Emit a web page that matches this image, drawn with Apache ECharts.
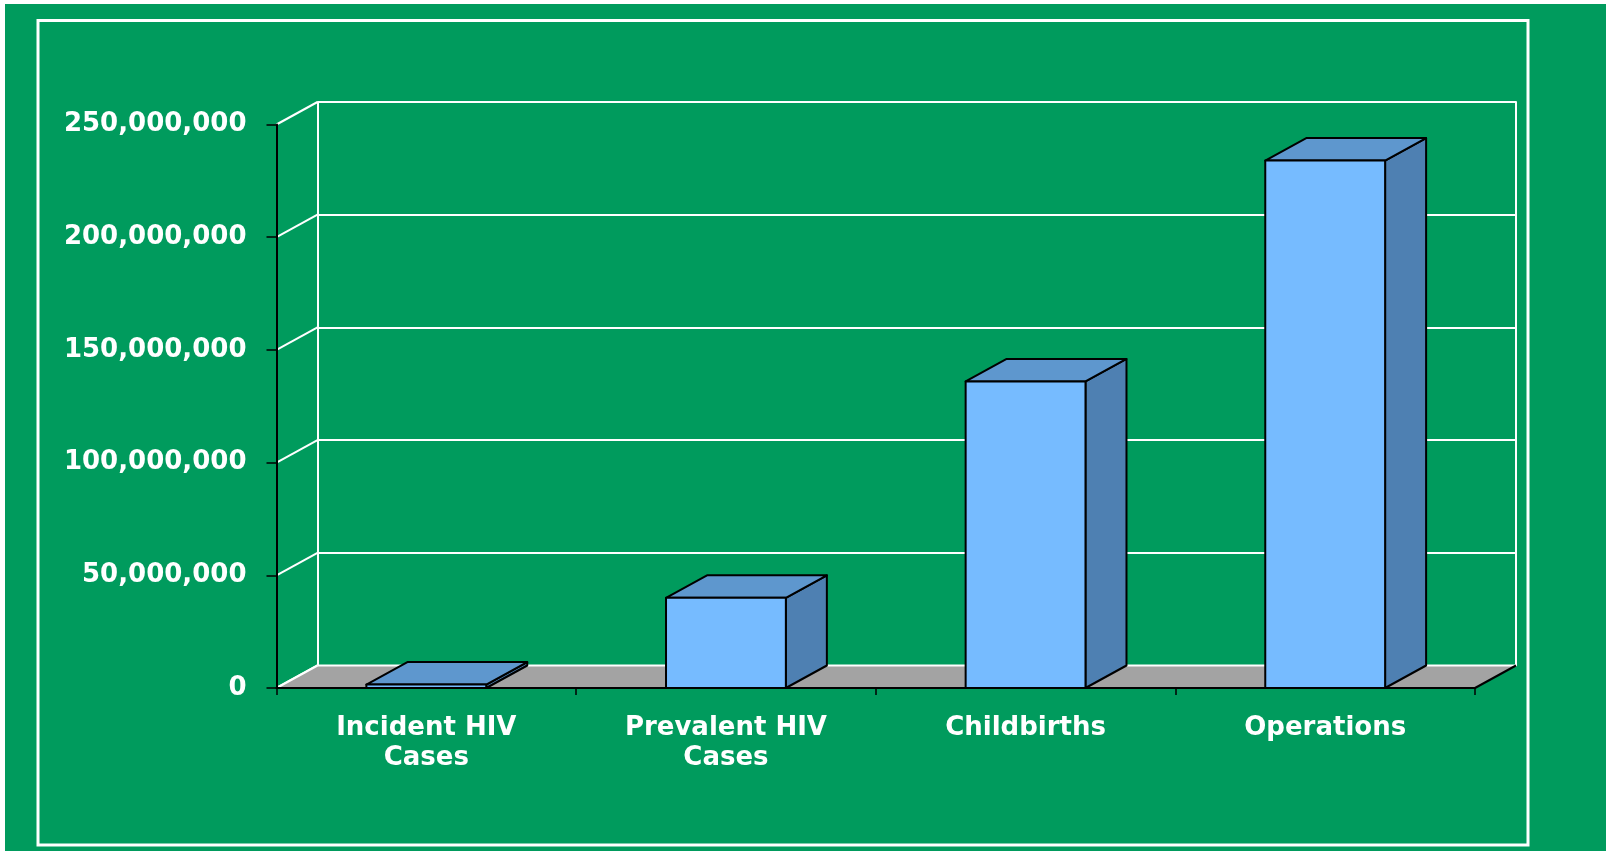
<!DOCTYPE html>
<html>
<head>
<meta charset="utf-8">
<style>
html,body{margin:0;padding:0;background:#ffffff;}
#chart{width:1606px;height:851px;}
</style>
<script src="https://cdn.jsdelivr.net/npm/echarts@6/dist/echarts.min.js"></script>
</head>
<body>
<div id="chart"></div>
<script>
// ---- data ----
const categories = ['Incident HIV\nCases', 'Prevalent HIV\nCases', 'Childbirths', 'Operations'];
const values = [1500000, 40000000, 136000000, 234000000];
const yTicks = [0, 50000000, 100000000, 150000000, 200000000, 250000000];
const yTickLabels = ['0', '50,000,000', '100,000,000', '150,000,000', '200,000,000', '250,000,000'];

// ---- style ----
const DX = 41, DY = -22.5;          // 3-D depth offset
const GREEN = '#009B5D';
const FRONT = '#76BBFF', TOP = '#5E97CE', SIDE = '#4E80B2';
const FLOOR = '#A3A3A3';
const FONT = 'DejaVu Sans';
const Y_MAX = yTicks[yTicks.length - 1];
const Y_STEP = yTicks[1] - yTicks[0];

const chart = echarts.init(document.getElementById('chart'), null, {renderer: 'canvas'});

const frontGrid = {left: 276.5, top: 124.5, width: 1198.5, height: 563.5};
const backGrid = {left: frontGrid.left + DX, top: frontGrid.top + DY, width: frontGrid.width, height: frontGrid.height};

const option = {
  backgroundColor: '#ffffff',
  animation: false,
  graphic: [
    {type: 'rect', z: -100, shape: {x: 5, y: 4, width: 1601, height: 847}, style: {fill: GREEN}},
    {type: 'rect', z: -99, shape: {x: 38, y: 20.5, width: 1490, height: 824.5}, style: {fill: null, stroke: '#ffffff', lineWidth: 3}}
  ],
  grid: [
    Object.assign({containLabel: false}, frontGrid),
    Object.assign({containLabel: false}, backGrid)
  ],
  xAxis: [
    {
      type: 'category', gridIndex: 0, data: categories, boundaryGap: true, z: 10,
      axisLine: {show: true, lineStyle: {color: '#000000', width: 2}},
      axisTick: {show: true, length: 7, lineStyle: {color: '#000000', width: 1.5}},
      axisLabel: {color: '#ffffff', fontFamily: FONT, fontWeight: 'bold', fontSize: 26, lineHeight: 30, margin: 25},
      splitLine: {show: false}
    },
    {
      type: 'category', gridIndex: 1, data: categories, boundaryGap: true,
      axisLine: {show: false}, axisTick: {show: false}, axisLabel: {show: false}, splitLine: {show: false}
    }
  ],
  yAxis: [
    {
      type: 'value', gridIndex: 0, min: 0, max: Y_MAX, interval: Y_STEP, z: 10,
      axisLine: {show: true, lineStyle: {color: '#000000', width: 2}},
      axisTick: {show: true, length: 10, lineStyle: {color: '#000000', width: 1.5}},
      axisLabel: {
        color: '#ffffff', fontFamily: FONT, fontWeight: 'bold', fontSize: 26, margin: 30,
        formatter: function (v) { return yTickLabels[Math.round(v / Y_STEP)]; }
      },
      splitLine: {show: false}
    },
    {
      type: 'value', gridIndex: 1, min: 0, max: Y_MAX, interval: Y_STEP, position: 'left',
      axisLine: {show: true, onZero: false, lineStyle: {color: '#ffffff', width: 2}},
      axisTick: {show: false}, axisLabel: {show: false},
      splitLine: {show: true, lineStyle: {color: '#ffffff', width: 2}}
    },
    {
      type: 'value', gridIndex: 1, min: 0, max: Y_MAX, interval: Y_STEP, position: 'right',
      axisLine: {show: true, onZero: false, lineStyle: {color: '#ffffff', width: 2}},
      axisTick: {show: false}, axisLabel: {show: false}, splitLine: {show: false}
    }
  ],
  series: [
    {
      // left side-wall depth lines at every tick
      type: 'custom', xAxisIndex: 0, yAxisIndex: 0, z: 1, silent: true,
      data: yTicks.map(function (t) { return [0, t]; }),
      encode: {x: 0, y: 1},
      renderItem: function (params, api) {
        const cs = params.coordSys;
        const y = api.coord([0, api.value(1)])[1];
        return {type: 'line', shape: {x1: cs.x, y1: y, x2: cs.x + DX, y2: y + DY},
          style: {stroke: '#ffffff', lineWidth: 2}};
      }
    },
    {
      // floor
      type: 'custom', xAxisIndex: 0, yAxisIndex: 0, z: 2, silent: true,
      data: [[0, 0]],
      encode: {x: 0, y: 1},
      renderItem: function (params, api) {
        const cs = params.coordSys;
        const y0 = api.coord([0, 0])[1];
        const xl = cs.x, xr = cs.x + cs.width;
        return {type: 'group', children: [
          {type: 'polygon', shape: {points: [[xl, y0], [xr, y0], [xr + DX, y0 + DY], [xl + DX, y0 + DY]]},
            style: {fill: FLOOR}},
          {type: 'line', shape: {x1: xl + DX, y1: y0 + DY, x2: xr + DX, y2: y0 + DY},
            style: {stroke: '#ffffff', lineWidth: 2}},
          {type: 'line', shape: {x1: xl, y1: y0, x2: xl + DX, y2: y0 + DY},
            style: {stroke: '#ffffff', lineWidth: 2}},
          {type: 'line', shape: {x1: xr, y1: y0, x2: xr + DX, y2: y0 + DY},
            style: {stroke: '#000000', lineWidth: 2}}
        ]};
      }
    },
    {
      // 3-D bars
      type: 'custom', xAxisIndex: 0, yAxisIndex: 0, z: 3,
      data: categories.map(function (c, i) { return [i, values[i]]; }),
      encode: {x: 0, y: 1},
      renderItem: function (params, api) {
        const idx = api.value(0), v = api.value(1);
        const top = api.coord([idx, v]);
        const base = api.coord([idx, 0]);
        const bw = api.size([1, 0])[0] * 0.4;
        const xl = top[0] - bw / 2, xr = top[0] + bw / 2, yt = top[1], yb = base[1];
        const st = {stroke: '#000000', lineWidth: 2, lineJoin: 'round'};
        return {type: 'group', children: [
          {type: 'polygon', shape: {points: [[xr, yt], [xr + DX, yt + DY], [xr + DX, yb + DY], [xr, yb]]},
            style: Object.assign({fill: SIDE}, st)},
          {type: 'polygon', shape: {points: [[xl, yt], [xr, yt], [xr + DX, yt + DY], [xl + DX, yt + DY]]},
            style: Object.assign({fill: TOP}, st)},
          {type: 'rect', shape: {x: xl, y: yt, width: bw, height: yb - yt},
            style: Object.assign({fill: FRONT}, st)}
        ]};
      }
    }
  ]
};
chart.setOption(option);
</script>
</body>
</html>
